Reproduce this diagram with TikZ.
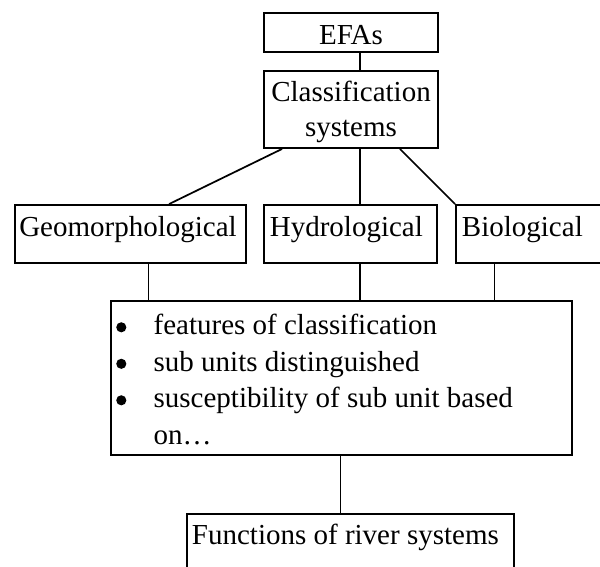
\documentclass[tikz,border=0pt]{standalone}
\usepackage{fontspec}
\setmainfont{Liberation Serif}
\usetikzlibrary{fit,calc}
\begin{document}
\begin{tikzpicture}[x=0.75pt,y=-0.75pt,
  box/.style={draw, line width=1.4pt, inner sep=0pt, rectangle},
  conn/.style={line width=1.3pt},
  txt/.style={inner sep=0pt, font=\fontsize{21.75}{26}\selectfont},
  dot/.style={circle, fill, draw=none, inner sep=0pt, minimum size=7.6pt},
]
\useasboundingbox (0,0) rectangle (600,567);
\clip (0,0) rectangle (600,567);
% boxes
\node[box, fit={(264,13.3) (437.7,52.3)}] (efa) {};
\node[box, fit={(264,71) (437.7,148)}] (cls) {};
\node[box, fit={(14.7,205) (245.7,263)}] (geo) {};
\node[box, fit={(264,205) (437.3,263)}] (hyd) {};
\node[box, fit={(456,205) (612,263)}] (bio) {};
\node[box, fit={(110.7,300.7) (572.3,455)}] (lst) {};
\node[box, fit={(187.3,514) (514.3,590)}] (fun) {};
% texts
\node[txt, anchor=base] (efat) at (351,45) {EFAs};
\node[txt, anchor=base] (clst1) at (351,101.7) {Classification};
\node[txt, anchor=base] (clst2) at (351,136.7) {systems};
\node[txt, anchor=base west] (geot) at (19,236) {Geomorphological};
\node[txt, anchor=base west] (hydt) at (269.6,236) {Hydrological};
\node[txt, anchor=base west] (biot) at (461.7,236) {Biological};
\node[dot] (b1) at (121.3,327.3) {};
\node[dot] (b2) at (121.3,363.8) {};
\node[dot] (b3) at (121.3,400.3) {};
\node[txt, anchor=base west] (l1) at (153.4,334.5) {features of classification};
\node[txt, anchor=base west] (l2) at (153.4,371) {sub units distinguished};
\node[txt, anchor=base west] (l3) at (153.4,407.5) {susceptibility of sub unit based};
\node[txt, anchor=base west] (l4) at (153.4,444) {on…};
\node[txt, anchor=base west] (funt) at (191.7,544) {Functions of river systems};
% connectors
\draw[conn] ($(efa.south west)+(96.7,0)$) -- ($(cls.north west)+(96.7,0)$);
\draw[conn] ($(cls.south west)+(19,0)$) -- ($(geo.north west)+(155.3,0)$);
\draw[conn] ($(cls.south west)+(96.7,0)$) -- ($(hyd.north west)+(96.7,0)$);
\draw[conn] ($(cls.south east)+(-38.7,0)$) -- (bio.north west);
\draw[conn] ($(geo.south west)+(134.6,0)$) -- ($(lst.north west)+(38.6,0)$);
\draw[conn] ($(hyd.south west)+(96.7,0)$) -- ($(lst.north west)+(250,0)$);
\draw[conn] ($(bio.south west)+(39.3,0)$) -- ($(lst.north west)+(384.6,0)$);
\draw[conn] ($(lst.south west)+(230.6,0)$) -- ($(fun.north west)+(154,0)$);
\end{tikzpicture}
\end{document}
